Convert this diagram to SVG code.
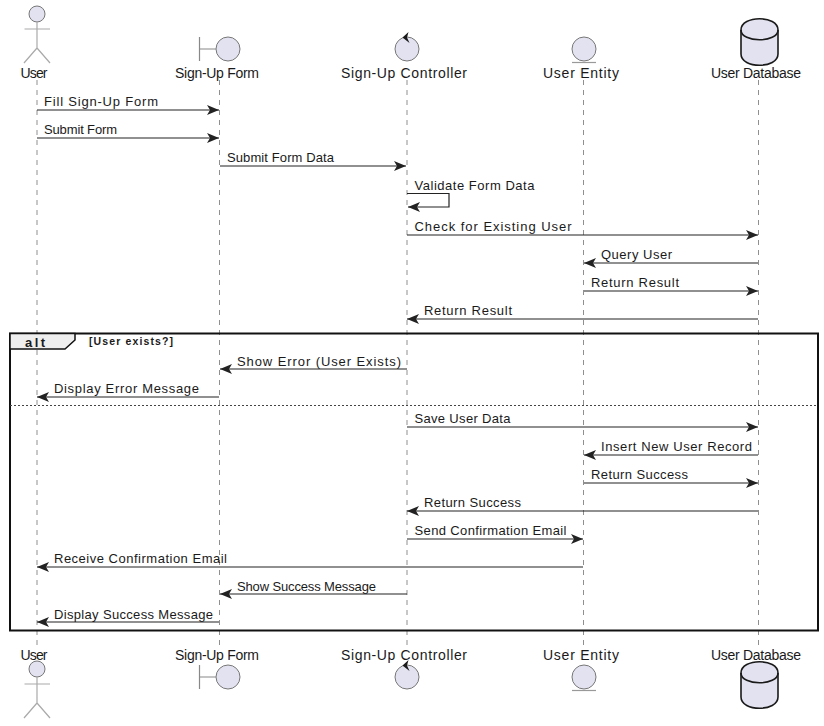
<svg xmlns="http://www.w3.org/2000/svg" width="824" height="726" viewBox="0 0 824 726">
<style>
text{font-family:"Liberation Sans",Arial,sans-serif;fill:#1a1a1a}
.n{font-size:14px}
.m{font-size:13px}
.life{stroke:#8f8f8f;stroke-width:1;stroke-dasharray:5 5;fill:none}
.msg{stroke:#222;stroke-width:1.2;fill:none}
.shape{fill:#e2e2f0;stroke:#777;stroke-width:1}
.limb{stroke:#aaa;stroke-width:1.2;fill:none}
.bar{stroke:#888;stroke-width:1.2;fill:none}
.db{fill:#e2e2f0;stroke:#1a1a1a;stroke-width:1.6}
</style>
<defs>
<marker id="a" markerUnits="userSpaceOnUse" markerWidth="14" markerHeight="12" refX="12" refY="5" orient="auto"><path d="M0 0L12 5L0 10L3 5Z" fill="#222"/></marker>
<g id="actor"><circle cx="37" cy="14" r="8" class="shape"/><path class="limb" d="M37 22V48M24.500 29H50M37 48L24 63M37 48L50 63"/></g>
<g id="bnd"><circle cx="228" cy="49" r="12" class="shape"/><path class="bar" d="M199.500 37V61M199.500 49H216"/></g>
<g id="ctl"><circle cx="407" cy="49" r="12" class="shape"/><path d="M408.500 32L402.500 37.500L409.500 43L407 37.500Z" fill="#1a1a1a"/></g>
<g id="ent"><circle cx="584" cy="49" r="12" class="shape"/><path d="M572 62.500H596" stroke="#999" stroke-width="1.200"/></g>
<g id="dbs"><path class="db" d="M741 30C741 15 778 15 778 30V54C778 69 741 69 741 54Z"/><path d="M741 30C741 43 778 43 778 30" fill="none" stroke="#1a1a1a" stroke-width="1.600"/></g>
</defs>

<g id="lifelines">
<path class="life" d="M37 80V645"/>
<path class="life" d="M219.500 80V645"/>
<path class="life" d="M407 80V645"/>
<path class="life" d="M583.500 80V645"/>
<path class="life" d="M758.500 80V645"/>
</g>

<g id="top-participants">
<g id="p-user-top"><use href="#actor"/><text class="n" x="34" y="77.500" text-anchor="middle" textLength="27">User</text></g>
<g id="p-form-top"><use href="#bnd"/><text class="n" x="217" y="77.500" text-anchor="middle" textLength="84">Sign-Up Form</text></g>
<g id="p-ctl-top"><use href="#ctl"/><text class="n" x="404" y="77.500" text-anchor="middle" textLength="126">Sign-Up Controller</text></g>
<g id="p-ent-top"><use href="#ent"/><text class="n" x="581" y="77.500" text-anchor="middle" textLength="76">User Entity</text></g>
<g id="p-db-top"><use href="#dbs"/><text class="n" x="756" y="77.500" text-anchor="middle" textLength="90">User Database</text></g>
</g>

<g id="fragment">
<rect x="10" y="333.500" width="808" height="297" fill="none" stroke="#111" stroke-width="2"/>
<path d="M10 333.500H75V340L65 349H10Z" fill="#eee" stroke="#111" stroke-width="1.500"/>
<text x="25" y="347" font-size="13" font-weight="700" textLength="20">alt</text>
<text x="89" y="345" font-size="10.500" font-weight="700" textLength="84">[User exists?]</text>
<path d="M10 405.500H818" stroke="#444" stroke-width="1" stroke-dasharray="2 2"/>
</g>

<g id="connectors">
<path class="msg" marker-end="url(#a)" d="M37 110H219"/>
<path class="msg" marker-end="url(#a)" d="M37 138H219"/>
<path class="msg" marker-end="url(#a)" d="M220 166H406"/>
<path class="msg" marker-end="url(#a)" d="M407 193.500H449V207H408"/>
<path class="msg" marker-end="url(#a)" d="M407 235H758"/>
<path class="msg" marker-end="url(#a)" d="M758 263H584"/>
<path class="msg" marker-end="url(#a)" d="M584 291H758"/>
<path class="msg" marker-end="url(#a)" d="M758 319H407"/>
<path class="msg" marker-end="url(#a)" d="M407 369H220"/>
<path class="msg" marker-end="url(#a)" d="M219 397H37"/>
<path class="msg" marker-end="url(#a)" d="M407 427H758"/>
<path class="msg" marker-end="url(#a)" d="M758 455H584"/>
<path class="msg" marker-end="url(#a)" d="M584 483H758"/>
<path class="msg" marker-end="url(#a)" d="M758 511H407"/>
<path class="msg" marker-end="url(#a)" d="M407 539H583"/>
<path class="msg" marker-end="url(#a)" d="M583 567H37"/>
<path class="msg" marker-end="url(#a)" d="M407 594H220"/>
<path class="msg" marker-end="url(#a)" d="M219 622H37"/>
</g>

<g id="labels" class="m">
<text class="m" x="44" y="106" textLength="114">Fill Sign-Up Form</text>
<text class="m" x="44" y="134" font-size="12" textLength="73">Submit Form</text>
<text class="m" x="227" y="162" textLength="107">Submit Form Data</text>
<text class="m" x="414.500" y="190" textLength="120">Validate Form Data</text>
<text class="m" x="414.500" y="231" textLength="157">Check for Existing User</text>
<text class="m" x="601" y="259" textLength="71">Query User</text>
<text class="m" x="591" y="287" textLength="88">Return Result</text>
<text class="m" x="424" y="315" textLength="88">Return Result</text>
<text class="m" x="237" y="366" textLength="164">Show Error (User Exists)</text>
<text class="m" x="54" y="393" textLength="145">Display Error Message</text>
<text class="m" x="414.500" y="423" textLength="96">Save User Data</text>
<text class="m" x="601" y="451" textLength="151">Insert New User Record</text>
<text class="m" x="591" y="479" textLength="97">Return Success</text>
<text class="m" x="424" y="507" textLength="97">Return Success</text>
<text class="m" x="414.500" y="535" textLength="152">Send Confirmation Email</text>
<text class="m" x="54" y="563" textLength="173">Receive Confirmation Email</text>
<text class="m" x="237" y="591" textLength="139">Show Success Message</text>
<text class="m" x="54" y="619" textLength="159">Display Success Message</text>
</g>

<g id="bottom-participants">
<g id="p-user-bot"><use href="#actor" y="655"/><text class="n" x="34" y="660" text-anchor="middle" textLength="27">User</text></g>
<g id="p-form-bot"><use href="#bnd" y="628"/><text class="n" x="217" y="660" text-anchor="middle" textLength="84">Sign-Up Form</text></g>
<g id="p-ctl-bot"><use href="#ctl" y="628"/><text class="n" x="404" y="660" text-anchor="middle" textLength="126">Sign-Up Controller</text></g>
<g id="p-ent-bot"><use href="#ent" y="628"/><text class="n" x="581" y="660" text-anchor="middle" textLength="76">User Entity</text></g>
<g id="p-db-bot"><use href="#dbs" y="643"/><text class="n" x="756" y="660" text-anchor="middle" textLength="90">User Database</text></g>
</g>
</svg>
